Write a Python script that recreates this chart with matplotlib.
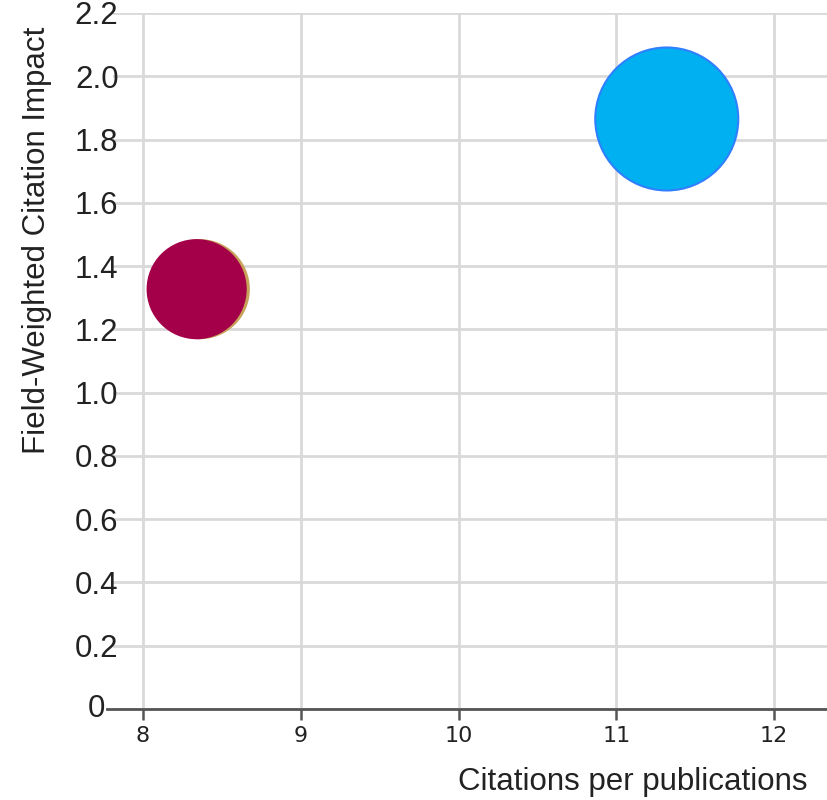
import matplotlib
matplotlib.use('Agg')
import matplotlib.pyplot as plt

# bubble data
names = ['Group C', 'Group A', 'Group B']
citations_per_pub = [8.36, 8.34, 11.32]
fwci = [1.327, 1.327, 1.865]
bubble_value = [47, 47, 100]   # relative bubble area
colors = ['#c9a25a', '#a4004a', '#00b0f0']
edges = ['#c9a25a', '#a4004a', '#2f7fff']

yticks = [0, 0.2, 0.4, 0.6, 0.8, 1.0, 1.2, 1.4, 1.6, 1.8, 2.0, 2.2]
ytick_labels = ['' if v == 0 else '%.1f' % v for v in yticks]
xticks = [8, 9, 10, 11, 12]
xtick_labels = ['8', '9', '10', '11', '12']

fig = plt.figure(figsize=(8.28, 8.0), dpi=100)
ax = fig.add_axes([0.1365, 0.11375, 0.8635, 0.87])

ax.scatter(citations_per_pub, fwci, s=[v * 106 for v in bubble_value],
           c=colors, edgecolors=edges, linewidths=1.5, zorder=3)

ax.set_xlim(7.81, 12.342)
ax.set_ylim(0, 2.2)

ax.set_yticks(yticks)
ax.set_yticklabels(ytick_labels, fontsize=22.5, color='#222222',
                   family=['Liberation Sans', 'DejaVu Sans'])
ax.set_xticks(xticks)
ax.set_xticklabels(xtick_labels, fontsize=16, color='#222222',
                   family=['Liberation Sans Narrow', 'DejaVu Sans'])
ax.tick_params(axis='y', length=0, pad=-4)
ax.tick_params(axis='x', length=8, width=1.8, color='#555555', pad=4)

# the zero label sits left of the axis line
ax.text(7.76, 0, '0', fontsize=22.5, color='#222222', ha='right', va='center',
        family=['Liberation Sans', 'DejaVu Sans'], clip_on=False)

ax.grid(True, color='#d9d9d9', linewidth=2, zorder=0)
ax.set_axisbelow(True)
for side in ['left', 'right', 'top', 'bottom']:
    ax.spines[side].set_visible(False)

# x axis line reaching past the left edge
ax.plot([7.77, 12.342], [0, 0], color='#555555', linewidth=2,
        clip_on=False, zorder=4)

ax.set_ylabel('Field-Weighted Citation Impact', fontsize=22.5, color='#222222',
              family=['Liberation Sans', 'DejaVu Sans'])
ax.yaxis.set_label_coords(-0.086, 0.674)
ax.set_xlabel('Citations per publications', fontsize=22.5, color='#222222',
              family=['Liberation Sans', 'DejaVu Sans'], loc='right')
ax.xaxis.set_label_coords(0.972, -0.084)

plt.savefig('out.png', dpi=100)
